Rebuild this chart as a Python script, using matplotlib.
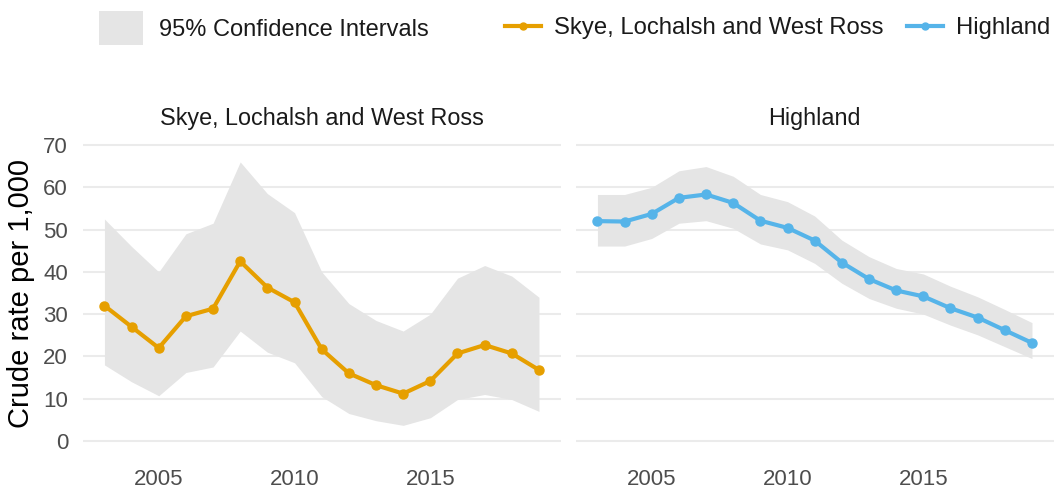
import matplotlib
matplotlib.use('Agg')
import matplotlib.pyplot as plt
from matplotlib.patches import Patch
from matplotlib.lines import Line2D

plt.rcParams['font.family'] = ['Liberation Sans', 'DejaVu Sans']

years = list(range(2003, 2020))

skye_rate = [32, 27, 22, 29.5, 31.3, 42.5, 36.3, 32.8, 21.7, 16, 13.2, 11.2, 14.2, 20.7, 22.7, 20.7, 16.8]
skye_upper = [52.5, 46, 40, 49, 51.5, 66, 58.5, 54, 40, 32.5, 28.5, 26, 30, 38.5, 41.5, 39, 34]
skye_lower = [18, 14, 10.7, 16.2, 17.5, 26, 21, 18.5, 10.5, 6.5, 4.8, 3.7, 5.5, 9.8, 11, 9.8, 7]

high_rate = [52.0, 51.9, 53.7, 57.5, 58.3, 56.3, 52.1, 50.4, 47.4, 42.2, 38.3, 35.6, 34.2, 31.4, 29.2, 26.2, 23.2]
high_upper = [58.3, 58.3, 60, 63.9, 64.9, 62.6, 58.3, 56.6, 53.2, 47.5, 43.6, 40.8, 39.5, 36.6, 34.1, 31.1, 28]
high_lower = [46.1, 46.1, 47.9, 51.5, 52.1, 50.3, 46.6, 45.2, 42, 37.3, 33.7, 31.4, 30, 27.4, 25.1, 22.3, 19.5]

panels = ['Skye, Lochalsh and West Ross', 'Highland']
colors = {'Skye, Lochalsh and West Ross': '#E69F00', 'Highland': '#56B4E9'}
series = {
	'Skye, Lochalsh and West Ross': (skye_rate, skye_lower, skye_upper),
	'Highland': (high_rate, high_lower, high_upper),
}

W, H = 1059, 488
fig = plt.figure(figsize=(W / 100, H / 100), dpi=100)

axes = [
	fig.add_axes([82.7 / W, (H - 455.8) / H, 478 / W, 325.6 / H]),
	fig.add_axes([575.7 / W, (H - 455.8) / H, 478 / W, 325.6 / H]),
]

for ax, name in zip(axes, panels):
	rate, lower, upper = series[name]
	ax.fill_between(years, lower, upper, color='#e5e5e5', linewidth=0, zorder=1)
	ax.plot(years, rate, '-o', color=colors[name], linewidth=3, markersize=6.5, zorder=3)
	ax.set_xlim(2002.2, 2019.8)
	ax.set_ylim(-3.5, 73.5)
	ax.set_yticks(range(0, 71, 10))
	ax.set_xticks([2005, 2010, 2015])
	ax.grid(axis='y', color='#ebebeb', linewidth=1.5, zorder=0)
	ax.set_axisbelow(True)
	for s in ax.spines.values():
		s.set_visible(False)
	ax.tick_params(length=0, labelsize=16, labelcolor='#4d4d4d')
	ax.tick_params(axis='y', pad=10.5)
	ax.tick_params(axis='x', pad=9.5)
	ax.set_title(name, fontsize=16.8, color='#1a1a1a', pad=3)

axes[0].set_ylabel('Crude rate per 1,000', fontsize=21, color='black', labelpad=6)
axes[1].tick_params(axis='y', labelleft=False)

fill_handles = [Patch(facecolor='#e5e5e5', edgecolor='none')]
leg1 = fig.legend(fill_handles, ['95% Confidence Intervals'], loc='center left',
				  bbox_to_anchor=(99 / W, (H - 28) / H), frameon=False, fontsize=17,
				  handlelength=1.86, handleheight=1.9, handletextpad=0.7,
				  borderpad=0, borderaxespad=0)

line_handles = [Line2D([], [], color=colors[n], linewidth=3, marker='o', markersize=5) for n in panels]
leg2 = fig.legend(line_handles, panels, loc='center left', ncol=2,
				  bbox_to_anchor=(505 / W, (H - 28) / H), frameon=False, fontsize=17.2,
				  handlelength=1.5, handletextpad=0.55, columnspacing=1.0,
				  borderpad=0, borderaxespad=0)
for t in leg1.get_texts() + leg2.get_texts():
	t.set_color('#1a1a1a')

fig.savefig('out.png', dpi=100)
